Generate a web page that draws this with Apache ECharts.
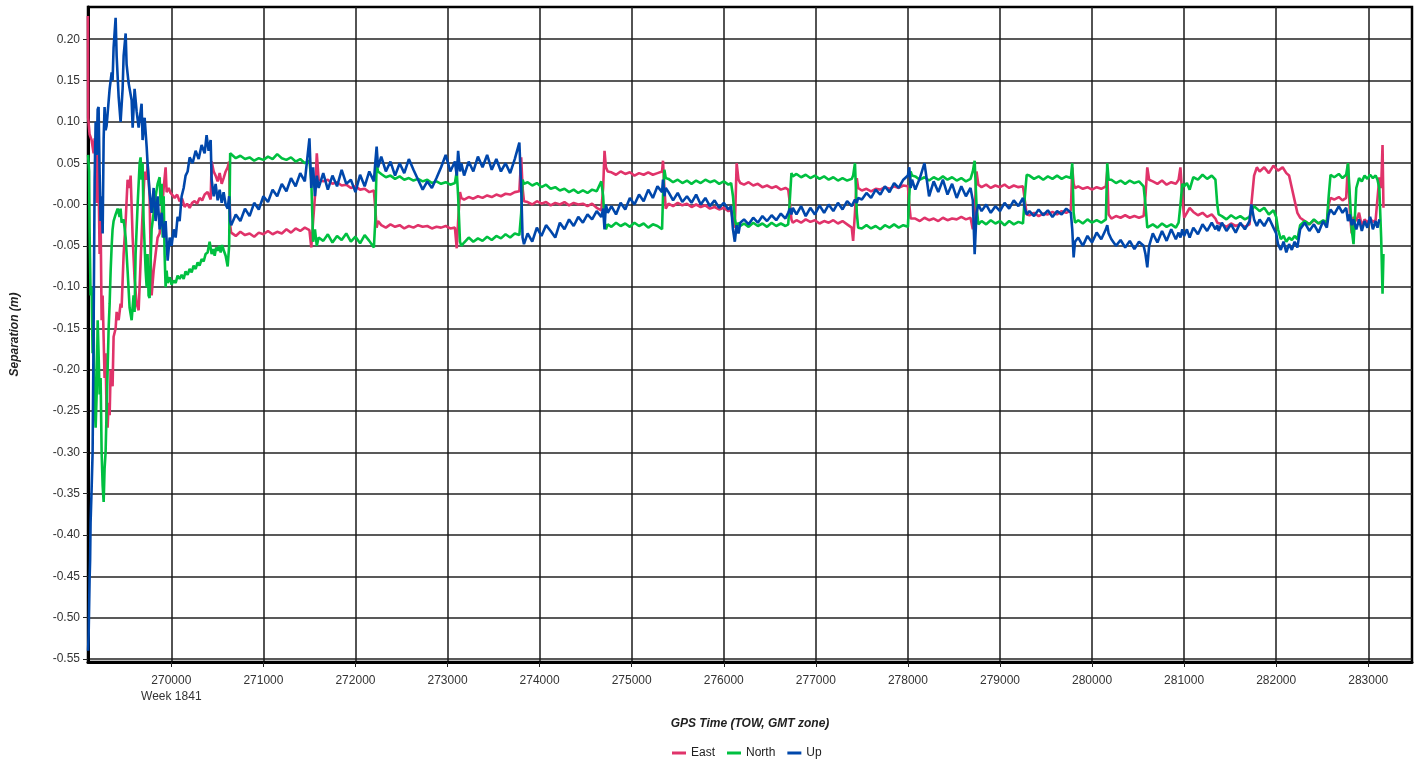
<!DOCTYPE html>
<html><head><meta charset="utf-8">
<script src="https://cdn.jsdelivr.net/npm/echarts@6/dist/echarts.min.js"></script>
<style>html,body{margin:0;padding:0;background:#fff}#chart{width:1420px;height:761px}</style>
</head><body><div id="chart"></div>
<script>
// Tick values and labels
const xTicks = [270000,271000,272000,273000,274000,275000,276000,277000,278000,279000,280000,281000,282000,283000];
const xTickLabels = ['270000\nWeek 1841','271000','272000','273000','274000','275000','276000','277000','278000','279000','280000','281000','282000','283000'];
const yTicks = [-0.55,-0.50,-0.45,-0.40,-0.35,-0.30,-0.25,-0.20,-0.15,-0.10,-0.05,0,0.05,0.10,0.15,0.20];
const yTickLabels = ['-0.55','-0.50','-0.45','-0.40','-0.35','-0.30','-0.25','-0.20','-0.15','-0.10','-0.05','-0.00','0.05','0.10','0.15','0.20'];
const seriesNames = ['East','North','Up'];

// East separation [GPS TOW, metres]
const east = [
[269094,0.228],[269097,0.105],[269112,0.085],[269134,0.078],[269156,0.062],[269167,0.080],[269178,0.045],[269189,0.002],[269200,0.060],[269210,0.030],[269221,-0.060],[269232,-0.020],[269243,-0.140],[269254,-0.110],[269275,-0.210],[269286,-0.180],[269297,-0.255],[269308,-0.270],[269319,-0.240],[269330,-0.255],[269341,-0.200],[269362,-0.220],[269373,-0.160],[269395,-0.150],[269406,-0.130],[269428,-0.140],[269449,-0.120],[269460,-0.125],[269482,-0.060],[269504,-0.020],[269525,0.030],[269547,0.020],[269558,0.035],[269580,-0.040],[269601,-0.090],[269623,-0.120],[269645,-0.128],[269666,-0.070],[269688,-0.010],[269710,0.040],[269732,0.030],[269742,0.050],[269764,0.010],[269775,-0.060],[269786,-0.110],[269808,-0.080],[269829,-0.060],[269851,-0.040],[269873,-0.035],[269895,-0.010],[269917,0.020],[269938,0.045],[269949,0.015],[269971,0.020],[269992,0.014],
[270036,0.008],[270063,0.012],[270090,0.004],[270117,0.007],[270144,-0.003],[270171,0.001],[270199,-0.004],[270226,0.002],[270253,0.004],[270280,0.001],[270307,0.008],[270335,0.005],[270362,0.012],[270394,0.015],[270427,0.006],[270438,0.052],[270460,0.040],[270481,0.035],[270503,0.028],[270525,0.038],[270547,0.025],[270568,0.032],[270590,0.040],[270612,0.045],[270628,0.052],[270639,-0.025],
[270650,-0.034],[270700,-0.038],[270750,-0.033],[270800,-0.037],[270850,-0.035],[270900,-0.039],[270950,-0.034],[271000,-0.036],[271050,-0.032],[271100,-0.036],[271150,-0.033],[271200,-0.035],[271250,-0.030],[271300,-0.034],[271350,-0.029],[271400,-0.032],[271450,-0.028],[271500,-0.031],
[271520,-0.052],[271540,-0.020],[271560,0.010],[271580,0.062],[271600,0.030],
[271650,0.028],[271700,0.030],[271750,0.025],[271800,0.027],[271850,0.023],[271900,0.024],[271950,0.020],[272000,0.022],[272050,0.018],[272100,0.019],[272150,0.015],[272200,0.017],
[272215,-0.005],[272230,-0.028],[272245,-0.020],
[272280,-0.025],[272330,-0.028],[272380,-0.024],[272430,-0.027],[272480,-0.025],[272530,-0.029],[272580,-0.026],[272630,-0.028],[272680,-0.025],[272730,-0.027],[272780,-0.026],[272830,-0.029],[272880,-0.027],[272930,-0.028],[272980,-0.026],[273030,-0.029],[273080,-0.028],
[273100,-0.053],[273115,-0.020],[273135,0.015],[273150,0.008],
[273180,0.006],[273230,0.009],[273280,0.007],[273330,0.010],[273380,0.008],[273430,0.011],[273480,0.009],[273530,0.012],[273580,0.010],[273630,0.013],[273680,0.012],[273730,0.015],[273780,0.016],
[273800,0.057],[273815,0.020],[273830,0.004],
[273870,0.003],[273920,0.000],[273970,0.004],[274020,0.001],[274070,0.003],[274120,-0.001],[274170,0.002],[274220,0.000],[274270,0.003],[274320,-0.001],[274370,0.002],[274420,0.000],[274470,0.001],[274520,-0.002],[274570,0.001],[274620,-0.004],[274670,-0.007],
[274690,0.020],[274705,0.065],[274720,0.045],[274740,0.040],
[274780,0.039],[274830,0.036],[274880,0.040],[274930,0.037],[274980,0.039],[275030,0.035],[275080,0.038],[275130,0.036],[275180,0.039],[275230,0.036],[275280,0.038],[275330,0.040],
[275340,0.053],[275355,0.020],[275370,-0.005],
[275400,0.001],[275450,-0.002],[275500,0.002],[275550,-0.001],[275600,0.001],[275650,-0.003],[275700,0.000],[275750,-0.003],[275800,-0.001],[275850,-0.005],[275900,-0.003],[275950,-0.006],[276000,-0.004],[276050,-0.008],[276080,-0.007],
[276100,-0.020],[276120,-0.028],[276140,0.050],[276160,0.030],[276180,0.026],
[276220,0.024],[276270,0.027],[276320,0.023],[276370,0.025],[276420,0.021],[276470,0.023],[276520,0.020],[276570,0.022],[276620,0.018],[276670,0.020],[276700,0.018],
[276720,0.000],[276735,-0.018],[276750,-0.022],
[276790,-0.019],[276840,-0.022],[276890,-0.018],[276940,-0.021],[276990,-0.019],[277040,-0.023],[277090,-0.020],[277140,-0.022],[277190,-0.019],[277240,-0.023],[277290,-0.020],[277340,-0.024],[277390,-0.028],
[277405,-0.044],[277425,-0.010],[277445,0.032],[277460,0.020],
[277500,0.017],[277550,0.019],[277600,0.016],[277650,0.019],[277700,0.018],[277750,0.021],[277800,0.019],[277850,0.022],[277900,0.020],[277950,0.023],[278000,0.022],
[278015,0.000],[278030,-0.017],[278045,-0.019],
[278080,-0.017],[278130,-0.020],[278180,-0.016],[278230,-0.019],[278280,-0.017],[278330,-0.020],[278380,-0.016],[278430,-0.019],[278480,-0.017],[278530,-0.018],[278580,-0.015],[278630,-0.018],[278680,-0.016],
[278705,-0.030],[278725,-0.010],[278745,0.040],[278765,0.024],
[278800,0.021],[278850,0.024],[278900,0.020],[278950,0.023],[279000,0.021],[279050,0.024],[279100,0.020],[279150,0.023],[279200,0.021],[279250,0.022],
[279270,0.005],[279290,-0.012],
[279320,-0.013],[279370,-0.010],[279420,-0.014],[279470,-0.011],[279520,-0.012],[279570,-0.009],[279620,-0.012],[279670,-0.008],[279720,-0.010],[279770,-0.007],
[279785,0.045],[279800,0.025],[279815,0.020],
[279850,0.022],[279900,0.019],[279950,0.021],[280000,0.018],[280050,0.021],[280100,0.019],[280150,0.022],
[280165,0.040],[280180,-0.012],
[280210,-0.017],[280260,-0.014],[280310,-0.016],[280360,-0.013],[280410,-0.016],[280460,-0.014],[280510,-0.016],[280560,-0.014],
[280580,0.010],[280600,0.045],[280620,0.030],
[280660,0.028],[280710,0.025],[280760,0.029],[280810,0.024],[280860,0.027],[280910,0.025],[280940,0.030],
[280960,0.045],[280980,0.010],[281000,-0.016],
[281030,-0.010],[281060,-0.004],[281100,-0.009],[281150,-0.013],[281200,-0.010],[281250,-0.015],[281300,-0.012],[281340,-0.017],
[281360,-0.022],[281375,-0.020],
[281410,-0.024],[281460,-0.027],[281510,-0.023],[281560,-0.026],[281610,-0.024],[281660,-0.027],[281710,-0.024],
[281730,0.000],[281760,0.035],[281790,0.045],
[281820,0.040],[281870,0.045],[281920,0.038],[281970,0.047],[282020,0.041],[282070,0.045],[282110,0.038],[282140,0.035],
[282170,0.020],[282200,0.005],[282230,-0.010],[282260,-0.016],[282310,-0.020],[282360,-0.024],[282410,-0.019],[282460,-0.023],[282510,-0.020],[282550,-0.022],
[282570,0.000],[282590,0.008],
[282630,0.006],[282680,0.009],[282720,0.005],[282760,0.008],
[282780,0.050],[282800,-0.010],[282820,-0.035],[282840,-0.015],
[282870,-0.020],[282900,-0.010],[282930,-0.026],[282960,-0.018],[282990,-0.022],[283020,-0.017],[283050,-0.021],[283080,-0.019],[283100,-0.020],[283120,0.033],[283140,0.020],[283155,0.072],[283165,-0.004]
];

// North separation
const north = [
[269096,0.060],[269107,0.040],[269112,-0.030],[269123,-0.110],[269134,-0.100],[269145,-0.180],[269156,-0.150],[269167,-0.240],[269178,-0.270],[269189,-0.230],[269200,-0.140],[269210,-0.180],[269221,-0.230],[269232,-0.210],[269243,-0.300],[269254,-0.340],[269265,-0.360],[269275,-0.320],[269286,-0.300],[269297,-0.250],[269308,-0.200],[269319,-0.150],[269330,-0.120],[269341,-0.080],[269352,-0.050],[269362,-0.030],[269373,-0.020],[269395,-0.012],[269417,-0.005],[269438,-0.015],[269449,-0.005],[269460,-0.022],[269482,-0.018],[269504,-0.040],[269525,-0.080],[269547,-0.125],[269569,-0.140],[269590,-0.110],[269601,-0.130],[269612,-0.060],[269634,0.000],[269656,0.050],[269666,0.057],[269677,0.030],[269688,0.050],[269699,-0.020],[269721,-0.080],[269732,-0.100],[269742,-0.060],[269753,-0.110],[269764,-0.113],[269775,-0.070],[269786,-0.030],[269808,-0.010],[269829,0.010],[269851,0.025],[269873,0.033],[269884,0.000],[269895,0.025],[269906,-0.040],[269917,0.010],[269927,-0.060],[269938,-0.100],[269949,-0.080],[269960,-0.095],[269982,-0.088],
[270003,-0.097],[270025,-0.092],[270047,-0.095],[270068,-0.086],[270090,-0.090],[270112,-0.085],[270134,-0.090],[270155,-0.081],[270177,-0.085],[270199,-0.078],[270221,-0.082],[270242,-0.074],[270264,-0.078],[270286,-0.070],[270307,-0.074],[270329,-0.066],[270351,-0.069],[270372,-0.060],[270394,-0.058],[270416,-0.045],[270438,-0.060],[270455,-0.054],[270471,-0.062],[270487,-0.052],[270503,-0.056],[270520,-0.050],[270536,-0.058],[270552,-0.049],[270568,-0.055],[270590,-0.062],[270612,-0.075],[270628,-0.050],[270639,0.062],
[270650,0.060],[270700,0.056],[270750,0.059],[270800,0.055],[270850,0.057],[270900,0.053],[270950,0.056],[271000,0.054],[271050,0.058],[271100,0.055],[271150,0.061],[271200,0.056],[271250,0.054],[271300,0.057],[271350,0.052],[271400,0.055],[271450,0.050],[271500,0.053],
[271520,0.030],[271540,-0.045],[271560,-0.030],[271580,-0.050],[271600,-0.040],
[271650,-0.044],[271700,-0.036],[271750,-0.046],[271800,-0.038],[271850,-0.043],[271900,-0.035],[271950,-0.045],[272000,-0.039],[272050,-0.047],[272100,-0.037],[272150,-0.044],[272200,-0.052],
[272215,-0.020],[272230,0.050],[272245,0.040],
[272280,0.037],[272330,0.033],[272380,0.035],[272430,0.031],[272480,0.034],[272530,0.030],[272580,0.032],[272630,0.029],[272680,0.031],[272730,0.028],[272780,0.030],[272830,0.026],[272880,0.028],[272930,0.025],[272980,0.027],[273030,0.024],[273080,0.026],
[273100,0.040],[273115,0.010],[273135,-0.045],[273150,-0.050],
[273180,-0.046],[273230,-0.040],[273280,-0.045],[273330,-0.041],[273380,-0.044],[273430,-0.039],[273480,-0.043],[273530,-0.038],[273580,-0.041],[273630,-0.036],[273680,-0.040],[273730,-0.035],[273780,-0.037],
[273800,-0.010],[273815,0.030],[273830,0.025],
[273870,0.027],[273920,0.023],[273970,0.026],[274020,0.021],[274070,0.024],[274120,0.019],[274170,0.021],[274220,0.017],[274270,0.019],[274320,0.015],[274370,0.018],[274420,0.014],[274470,0.017],[274520,0.014],[274570,0.018],[274620,0.016],[274670,0.028],
[274690,0.010],[274705,-0.020],[274720,-0.030],[274740,-0.024],
[274780,-0.027],[274830,-0.022],[274880,-0.026],[274930,-0.023],[274980,-0.027],[275030,-0.022],[275080,-0.026],[275130,-0.023],[275180,-0.028],[275230,-0.024],[275280,-0.026],[275330,-0.030],
[275340,0.010],[275355,0.042],[275370,0.032],
[275400,0.031],[275450,0.027],[275500,0.030],[275550,0.026],[275600,0.029],[275650,0.025],[275700,0.029],[275750,0.026],[275800,0.030],[275850,0.027],[275900,0.029],[275950,0.025],[276000,0.028],[276050,0.024],[276080,0.026],
[276100,0.010],[276120,-0.018],[276140,-0.028],[276160,-0.022],[276180,-0.026],
[276220,-0.023],[276270,-0.027],[276320,-0.022],[276370,-0.026],[276420,-0.023],[276470,-0.027],[276520,-0.022],[276570,-0.026],[276620,-0.023],[276670,-0.026],[276700,-0.024],
[276720,0.010],[276735,0.038],[276750,0.034],
[276790,0.037],[276840,0.033],[276890,0.036],[276940,0.032],[276990,0.035],[277040,0.031],[277090,0.034],[277140,0.030],[277190,0.033],[277240,0.029],[277290,0.032],[277340,0.029],[277390,0.031],
[277405,0.035],[277425,0.050],[277445,-0.010],[277460,-0.028],
[277500,-0.029],[277550,-0.025],[277600,-0.029],[277650,-0.026],[277700,-0.030],[277750,-0.025],[277800,-0.028],[277850,-0.024],[277900,-0.028],[277950,-0.025],[278000,-0.027],
[278015,0.010],[278030,0.040],[278045,0.035],
[278080,0.034],[278130,0.030],[278180,0.033],[278230,0.029],[278280,0.033],[278330,0.030],[278380,0.034],[278430,0.030],[278480,0.033],[278530,0.029],[278580,0.032],[278630,0.028],[278680,0.031],
[278705,0.040],[278725,0.053],[278745,0.000],[278765,-0.024],
[278800,-0.020],[278850,-0.024],[278900,-0.019],[278950,-0.023],[279000,-0.020],[279050,-0.025],[279100,-0.020],[279150,-0.024],[279200,-0.021],[279250,-0.023],
[279270,0.010],[279290,0.036],
[279320,0.035],[279370,0.031],[279420,0.034],[279470,0.030],[279520,0.034],[279570,0.031],[279620,0.035],[279670,0.031],[279720,0.034],[279770,0.032],
[279785,0.050],[279800,-0.010],[279815,-0.022],
[279850,-0.019],[279900,-0.023],[279950,-0.018],[280000,-0.022],[280050,-0.019],[280100,-0.022],[280150,-0.018],
[280165,0.050],[280180,0.030],
[280210,0.030],[280260,0.026],[280310,0.029],[280360,0.025],[280410,0.029],[280460,0.026],[280510,0.028],[280560,0.022],
[280580,0.000],[280600,-0.028],[280620,-0.030],
[280660,-0.024],[280710,-0.028],[280760,-0.023],[280810,-0.027],[280860,-0.024],[280910,-0.028],[280940,-0.022],
[280960,0.000],[280980,0.025],[281000,0.022],
[281030,0.026],[281060,0.018],[281100,0.033],[281150,0.030],[281200,0.036],[281250,0.031],[281300,0.035],[281340,0.030],
[281360,0.000],[281375,-0.012],
[281410,-0.014],[281460,-0.018],[281510,-0.013],[281560,-0.017],[281610,-0.014],[281660,-0.018],[281710,-0.015],
[281730,-0.008],[281760,-0.002],[281790,-0.005],
[281820,-0.008],[281870,-0.004],[281920,-0.012],[281970,-0.007],[282000,-0.015],[282020,-0.030],[282050,-0.042],[282080,-0.038],[282110,-0.045],[282140,-0.040],
[282170,-0.043],[282200,-0.038],[282230,-0.042],[282260,-0.025],[282310,-0.020],[282360,-0.024],[282410,-0.018],[282460,-0.023],[282510,-0.019],[282550,-0.022],
[282570,0.010],[282590,0.036],
[282630,0.033],[282680,0.037],[282720,0.032],[282760,0.036],
[282780,0.050],[282800,0.010],[282820,-0.030],[282840,-0.048],
[282870,0.020],[282900,0.032],[282930,0.028],[282960,0.035],[282990,0.031],[283020,0.036],[283050,0.032],[283080,0.035],[283100,0.030],[283120,0.020],[283140,-0.040],[283155,-0.108],[283165,-0.060]
];

// Up separation
const up = [
[269096,-0.540],[269102,-0.520],[269112,-0.455],[269118,-0.430],[269123,-0.385],[269134,-0.345],[269145,-0.300],[269156,-0.150],[269167,0.030],[269178,0.100],[269189,0.060],[269200,0.115],[269210,0.118],[269221,0.040],[269232,-0.020],[269243,0.010],[269254,-0.035],[269265,0.080],[269275,0.118],[269286,0.090],[269297,0.095],[269308,0.110],[269330,0.140],[269352,0.160],[269362,0.150],[269373,0.190],[269395,0.226],[269406,0.180],[269428,0.130],[269449,0.100],[269471,0.140],[269482,0.180],[269504,0.207],[269514,0.170],[269536,0.147],[269569,0.126],[269580,0.093],[269601,0.140],[269623,0.113],[269645,0.093],[269677,0.122],[269688,0.078],[269710,0.105],[269732,0.070],[269742,0.050],[269764,0.015],[269786,-0.010],[269808,0.020],[269829,-0.020],[269851,0.010],[269873,-0.030],[269895,-0.010],[269917,-0.040],[269938,-0.020],[269960,-0.068],[269982,-0.040],
[270003,-0.050],[270025,-0.030],[270047,-0.040],[270068,-0.015],[270090,-0.020],[270112,0.010],[270134,0.020],[270155,0.035],[270177,0.040],[270199,0.057],[270231,0.050],[270264,0.065],[270297,0.055],[270329,0.072],[270362,0.062],[270383,0.084],[270405,0.065],[270427,0.078],[270438,0.030],[270460,0.010],[270481,0.025],[270503,0.005],[270525,0.018],[270547,0.002],[270568,0.015],[270590,0.000],[270612,-0.005],[270628,0.010],[270639,-0.020],
[270650,-0.025],[270700,-0.012],[270750,-0.020],[270800,-0.005],[270850,-0.014],[270900,0.002],[270950,-0.006],[271000,0.010],[271050,0.003],[271100,0.018],[271150,0.010],[271200,0.025],[271250,0.016],[271300,0.032],[271350,0.022],[271400,0.038],[271450,0.028],[271500,0.080],
[271520,0.020],[271540,0.045],[271560,0.010],[271580,0.035],[271600,0.020],
[271650,0.038],[271700,0.018],[271750,0.035],[271800,0.022],[271850,0.042],[271900,0.025],[271950,0.030],[272000,0.015],[272050,0.036],[272100,0.022],[272150,0.040],[272200,0.028],
[272215,0.050],[272230,0.070],[272245,0.045],
[272280,0.058],[272330,0.040],[272380,0.052],[272430,0.035],[272480,0.050],[272530,0.038],[272580,0.055],[272630,0.042],[272680,0.030],[272730,0.018],[272780,0.028],[272830,0.020],[272880,0.032],[272930,0.045],[272980,0.060],[273030,0.040],[273080,0.052],
[273100,0.035],[273115,0.065],[273135,0.040],[273150,0.050],
[273180,0.035],[273230,0.052],[273280,0.040],[273330,0.058],[273380,0.045],[273430,0.060],[273480,0.042],[273530,0.055],[273580,0.040],[273630,0.050],[273680,0.038],[273730,0.055],[273780,0.075],
[273800,0.020],[273815,-0.040],[273830,-0.048],
[273870,-0.035],[273920,-0.045],[273970,-0.028],[274020,-0.038],[274070,-0.025],[274120,-0.032],[274170,-0.040],[274220,-0.022],[274270,-0.030],[274320,-0.018],[274370,-0.026],[274420,-0.015],[274470,-0.022],[274520,-0.012],[274570,-0.018],[274620,-0.008],[274670,-0.015],
[274690,-0.005],[274705,-0.030],[274720,0.000],[274740,-0.010],
[274780,-0.002],[274830,-0.012],[274880,0.002],[274930,-0.006],[274980,0.008],[275030,0.000],[275080,0.012],[275130,0.004],[275180,0.018],[275230,0.008],[275280,0.022],[275330,0.015],
[275340,0.030],[275355,0.010],[275370,0.020],
[275400,0.015],[275450,0.005],[275500,0.014],[275550,0.003],[275600,0.010],[275650,0.002],[275700,0.012],[275750,0.000],[275800,0.008],[275850,-0.002],[275900,0.005],[275950,-0.004],[276000,0.002],[276050,-0.006],[276080,-0.002],
[276100,-0.030],[276120,-0.045],[276140,-0.025],[276160,-0.035],[276180,-0.022],
[276220,-0.018],[276270,-0.024],[276320,-0.016],[276370,-0.022],[276420,-0.014],[276470,-0.020],[276520,-0.013],[276570,-0.019],[276620,-0.011],[276670,-0.017],[276700,-0.010],
[276720,-0.005],[276735,-0.012],[276750,-0.004],
[276790,-0.012],[276840,-0.002],[276890,-0.014],[276940,-0.004],[276990,-0.012],[277040,-0.001],[277090,-0.010],[277140,0.000],[277190,-0.008],[277240,0.002],[277290,-0.006],[277340,0.004],[277390,-0.002],
[277405,0.000],[277425,0.006],[277445,0.002],[277460,0.008],
[277500,0.006],[277550,0.014],[277600,0.008],[277650,0.018],[277700,0.012],[277750,0.022],[277800,0.015],[277850,0.026],[277900,0.020],[277950,0.030],[278000,0.035],
[278015,0.045],[278030,0.020],[278045,0.030],
[278080,0.018],[278130,0.032],[278180,0.050],[278230,0.010],[278280,0.028],[278330,0.015],[278380,0.030],[278430,0.012],[278480,0.025],[278530,0.008],[278580,0.022],[278630,0.010],[278680,0.020],
[278705,0.005],[278725,-0.060],[278745,-0.010],[278765,0.000],
[278800,-0.008],[278850,0.000],[278900,-0.010],[278950,-0.002],[279000,-0.008],[279050,0.002],[279100,-0.005],[279150,0.005],[279200,-0.002],[279250,0.008],
[279270,-0.005],[279290,-0.012],
[279320,-0.008],[279370,-0.014],[279420,-0.006],[279470,-0.013],[279520,-0.007],[279570,-0.015],[279620,-0.008],[279670,-0.012],[279720,-0.005],[279770,-0.010],
[279785,-0.030],[279800,-0.064],[279815,-0.045],
[279850,-0.040],[279900,-0.050],[279950,-0.038],[280000,-0.046],[280050,-0.034],[280100,-0.042],[280150,-0.030],
[280165,-0.025],[280180,-0.035],
[280210,-0.042],[280260,-0.050],[280310,-0.043],[280360,-0.052],[280410,-0.044],[280460,-0.054],[280510,-0.045],[280560,-0.050],
[280580,-0.060],[280600,-0.076],[280620,-0.050],
[280660,-0.035],[280710,-0.046],[280760,-0.032],[280810,-0.044],[280860,-0.030],[280910,-0.042],[280940,-0.034],
[280960,-0.040],[280980,-0.030],[281000,-0.038],
[281030,-0.030],[281060,-0.040],[281100,-0.028],[281150,-0.036],[281200,-0.024],[281250,-0.032],[281300,-0.022],[281340,-0.030],
[281360,-0.025],[281375,-0.032],
[281410,-0.022],[281460,-0.032],[281510,-0.024],[281560,-0.034],[281610,-0.022],[281660,-0.030],[281710,-0.020],
[281730,0.000],[281760,-0.018],[281790,-0.026],
[281820,-0.018],[281870,-0.026],[281920,-0.016],[281970,-0.028],[282000,-0.035],[282020,-0.048],[282050,-0.055],[282080,-0.045],[282110,-0.058],[282140,-0.048],
[282170,-0.055],[282200,-0.045],[282230,-0.052],[282260,-0.030],[282310,-0.022],[282360,-0.032],[282410,-0.024],[282460,-0.034],[282510,-0.020],[282550,-0.028],
[282570,-0.012],[282590,-0.006],
[282630,-0.012],[282680,-0.002],[282720,-0.010],[282760,-0.004],
[282780,-0.020],[282800,-0.012],[282820,-0.025],[282840,-0.018],
[282870,-0.030],[282900,-0.018],[282930,-0.032],[282960,-0.020],[282990,-0.028],[283020,-0.015],[283050,-0.030],[283080,-0.020],[283100,-0.028],[283120,-0.018]
];

const colors = ['#E0336A', '#00C040', '#0047AB'];
const FONT = '"Liberation Sans", Arial, sans-serif';

function yLabel(v) {
  for (let i = 0; i < yTicks.length; i++) if (Math.abs(yTicks[i] - v) < 1e-6) return yTickLabels[i];
  return '';
}
function xLabel(v) {
  for (let i = 0; i < xTicks.length; i++) if (Math.abs(xTicks[i] - v) < 1e-3) return xTickLabels[i];
  return '';
}

const chart = echarts.init(document.getElementById('chart'), null, {renderer: 'canvas'});
chart.setOption({
  animation: false,
  backgroundColor: '#fff',
  textStyle: {fontFamily: FONT},
  grid: {left: 88, right: 8, top: 7, bottom: 99, show: true, borderColor: '#000', borderWidth: 2.5, backgroundColor: 'transparent', containLabel: false, outerBoundsMode: 'none'},
  legend: {
    data: seriesNames, left: 672, top: 747, padding: 0, icon: 'rect', itemWidth: 14, itemHeight: 3, itemGap: 12,
    textStyle: {fontSize: 12, color: '#222', fontFamily: FONT}
  },
  xAxis: {
    type: 'value', min: 269095, max: 283475,
    name: 'GPS Time (TOW, GMT zone)', nameLocation: 'middle', nameGap: 56,
    nameTextStyle: {fontSize: 12, fontWeight: 'bold', fontStyle: 'italic', color: '#222', fontFamily: FONT},
    axisLine: {show: true, onZero: false, lineStyle: {color: '#000', width: 3}},
    axisTick: {show: true, length: 5, customValues: xTicks, lineStyle: {color: '#222', width: 1}},
    axisLabel: {customValues: xTicks, formatter: xLabel, fontSize: 12, color: '#333', margin: 11, lineHeight: 16, fontFamily: FONT},
    splitLine: {show: true, lineStyle: {color: '#1a1a1a', width: 1.5}}
  },
  yAxis: {
    type: 'value', min: -0.5536, max: 0.239,
    name: 'Separation (m)', nameLocation: 'middle', nameGap: 67, nameRotate: 90,
    nameTextStyle: {fontSize: 12, fontWeight: 'bold', fontStyle: 'italic', color: '#222', fontFamily: FONT},
    axisLine: {show: true, onZero: false, lineStyle: {color: '#000', width: 3}},
    axisTick: {show: true, length: 5, customValues: yTicks, lineStyle: {color: '#222', width: 1}},
    axisLabel: {customValues: yTicks, formatter: yLabel, fontSize: 12, color: '#333', margin: 8, fontFamily: FONT},
    splitLine: {show: true, lineStyle: {color: '#222', width: 1.5}}
  },
  series: [east, north, up].map((d, i) => ({
    name: seriesNames[i], type: 'line', data: d, showSymbol: false, symbol: 'none',
    sampling: null, color: colors[i], lineStyle: {width: 2.6, color: colors[i]},
    emphasis: {disabled: true}, clip: true, z: 3 + i
  }))
});
</script>
</body></html>
